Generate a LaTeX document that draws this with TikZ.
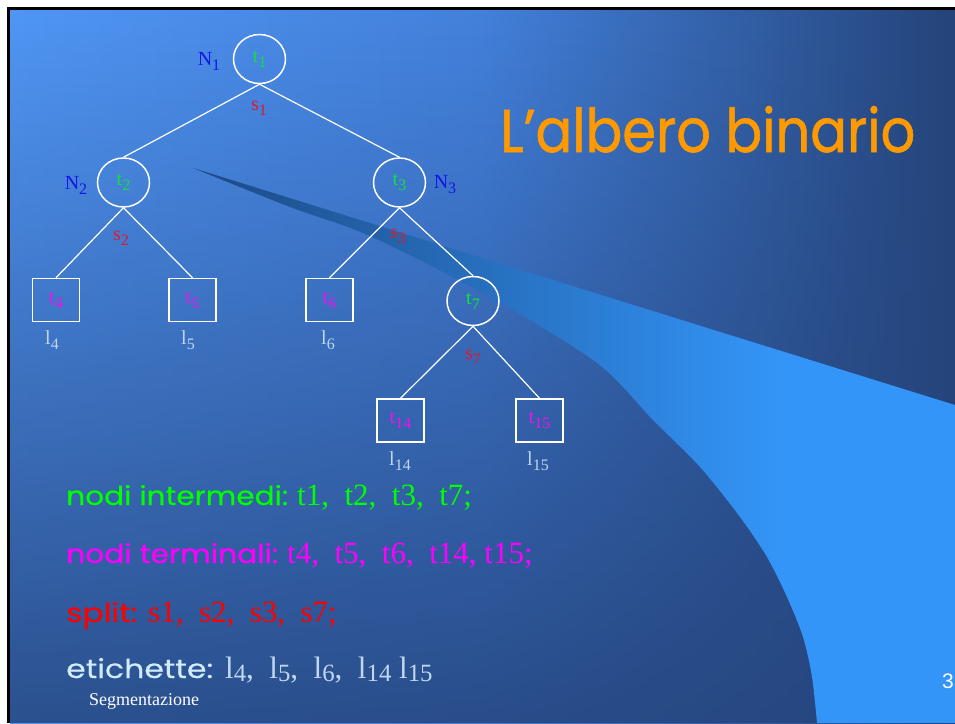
\documentclass[tikz,border=0pt]{standalone}
\usepackage{graphicx}
\usepackage{fontspec}
\setmainfont{Liberation Serif}
\newfontfamily\handfont[FakeBold=1.1]{Poppins}
\newfontfamily\handlistfont[FakeBold=0.35]{Poppins}
\newfontfamily\arialfont{Liberation Sans}
\usetikzlibrary{fadings,shapes.geometric}

\definecolor{bgA}{HTML}{5096F5}
\definecolor{bgB}{HTML}{4381DC}
\definecolor{bgC}{HTML}{25447A}
\definecolor{bgD}{HTML}{25447C}
\definecolor{swA}{HTML}{1C4A85}
\definecolor{swB}{HTML}{3395F8}
\definecolor{tgreen}{HTML}{10E040}
\definecolor{tmag}{HTML}{F010F0}
\definecolor{sred}{HTML}{E0182C}
\definecolor{nblue}{HTML}{1414E6}
\definecolor{lblue}{HTML}{BFD8F0}
\definecolor{ttitle}{HTML}{FF9900}
\definecolor{etic}{HTML}{D0ECFF}
\definecolor{lgreen}{HTML}{00FF00}
\definecolor{lmag}{HTML}{FF00FF}
\definecolor{lred}{HTML}{FF0000}

% label with a lowered, smaller index
\newcommand\dn[2]{#1\raisebox{-0.25em}{\scalebox{0.8}{#2}}}
\newcommand\dnb[2]{#1\raisebox{-0.1em}{\scalebox{0.8}{#2}}}
\newcommand\treefont{\fontsize{20}{20}\selectfont}
\newcommand\listfont{\fontsize{31}{31}\selectfont}

\begin{document}
\begin{tikzpicture}[x=1pt,y=-1pt,
  inode/.style={ellipse, draw=white, line width=1.5pt, minimum width=52pt,
                minimum height=49pt, inner sep=0pt, text=tgreen, font=\treefont},
  tnode/.style={rectangle, draw=white, line width=1.5pt, minimum width=47pt,
                minimum height=43pt, inner sep=0pt, text=tmag, font=\treefont},
  link/.style={draw=white, line width=1.2pt},
  nlabel/.style={inner sep=0pt, text=nblue, font=\treefont},
  slabel/.style={inner sep=0pt, text=sred, font=\treefont},
  llabel/.style={inner sep=0pt, text=lblue, font=\treefont},
  listhead/.style={anchor=base west, inner sep=0pt},
  listbody/.style={anchor=base west, inner sep=0pt, font=\listfont}]

\useasboundingbox (0,0) rectangle (955,723);
\fill[white] (0,0) rectangle (955,723);

% slide background
\shade[left color=bgA, right color=bgB] (10,10) rectangle (480.5,723);
\shade[left color=bgB, right color=bgC] (480,10) rectangle (955,723);
\fill[bgD, path fading=north, fill opacity=0.85] (10,10) rectangle (955,723);

% swoosh
\begin{scope}
  \clip (193,168) -- (955,405) -- (955,723) -- (817,723)
    -- plot[smooth] coordinates {(817,723) (812,677) (803,637) (787,597)
       (767,557) (740,517) (700,467) (653,420) (597,363) (490,297)
       (370,236) (290,207) (193,168)} -- cycle;
  \shade[left color=swA, right color=swB] (193,160) rectangle (780.5,723);
  \fill[swB] (780,160) rectangle (955,723);
\end{scope}

% slide frame
\draw[black, line width=3pt] (8.5,723) -- (8.5,8.5) -- (955,8.5);

% title
\node[listhead, text=ttitle] (title) at (500,152)
  {\resizebox{415pt}{46pt}{\handfont L’albero binario}};

% tree
\node[inode] (t1) at (259.5,59) {\dn{t}{1}};
\node[inode] (t2) at (123.5,182.5) {\dn{t}{2}};
\node[inode] (t3) at (399.5,182.5) {\dn{t}{3}};
\node[inode] (t7) at (473,301) {\dn{t}{7}};
\node[tnode] (t4) at (56,300) {\dn{t}{4}};
\node[tnode] (t5) at (192.5,300) {\dn{t}{5}};
\node[tnode] (t6) at (329.5,300) {\dn{t}{6}};
\node[tnode] (t14) at (400.5,420.5) {\dn{t}{14}};
\node[tnode] (t15) at (539.5,420.5) {\dn{t}{15}};

\draw[link] (t1.south) -- (t2.north);
\draw[link] (t1.south) -- (t3.north);
\draw[link] (t2.south) -- (t4.north);
\draw[link] (t2.south) -- (t5.north);
\draw[link] (t3.south) -- (t6.north);
\draw[link] (t3.south) -- (t7.north);
\draw[link] (t7.south) -- (t14.north);
\draw[link] (t7.south) -- (t15.north);

\node[nlabel] (n1) at (209,61) {\dn{N}{1}};
\node[nlabel] (n2) at (76,185) {\dn{N}{2}};
\node[nlabel] (n3) at (445,185) {\dn{N}{3}};

\node[slabel] (s1) at (259,108) {\dn{s}{1}};
\node[slabel] (s2) at (121,238) {\dn{s}{2}};
\node[slabel] (s3) at (398,236) {\dn{s}{3}};
\node[slabel] (s7) at (473,357) {\dn{s}{7}};

\node[llabel] (l4) at (52,340) {\dn{l}{4}};
\node[llabel] (l5) at (188,340) {\dn{l}{5}};
\node[llabel] (l6) at (328,340) {\dn{l}{6}};
\node[llabel] (l14) at (400,461) {\dn{l}{14}};
\node[llabel] (l15) at (538,461) {\dn{l}{15}};

% legend lines
\node[listhead, text=lgreen] (h1) at (66,505)
  {\resizebox{222pt}{20pt}{\handlistfont nodi intermedi:}};
\node[listbody, text=lgreen] (b1) at (297,505)
  {t1,\hspace{0.5em}t2,\hspace{0.5em}t3,\hspace{0.5em}t7;};

\node[listhead, text=lmag] (h2) at (66,563)
  {\resizebox{212pt}{20pt}{\handlistfont nodi terminali:}};
\node[listbody, text=lmag] (b2) at (287,563)
  {t4,\hspace{0.5em}t5,\hspace{0.5em}t6,\hspace{0.5em}t14,\hspace{0.25em}t15;};

\node[listhead, text=lred] (h3) at (66,622)
  {\resizebox{71pt}{20pt}{\handlistfont split:}};
\node[listbody, text=lred] (b3) at (148,622)
  {s1,\hspace{0.5em}s2,\hspace{0.5em}s3,\hspace{0.5em}s7;};

\node[listhead, text=etic] (h4) at (66,678)
  {\resizebox{147pt}{20pt}{\handlistfont etichette:}};
\node[listbody, text=lblue] (b4) at (225,678)
  {\dnb{l}{4},\hspace{0.5em}\dnb{l}{5},\hspace{0.5em}\dnb{l}{6},\hspace{0.5em}\dnb{l}{14}\hspace{0.25em}\dnb{l}{15}};

% footer
\node[anchor=base west, inner sep=0pt, text=white, font=\fontsize{18}{18}\selectfont]
  (foot) at (89,705) {Segmentazione};
\node[anchor=base east, inner sep=0pt, text=white, font=\arialfont\fontsize{21}{21}\selectfont]
  (page) at (954,688) {3};

\end{tikzpicture}
\end{document}
